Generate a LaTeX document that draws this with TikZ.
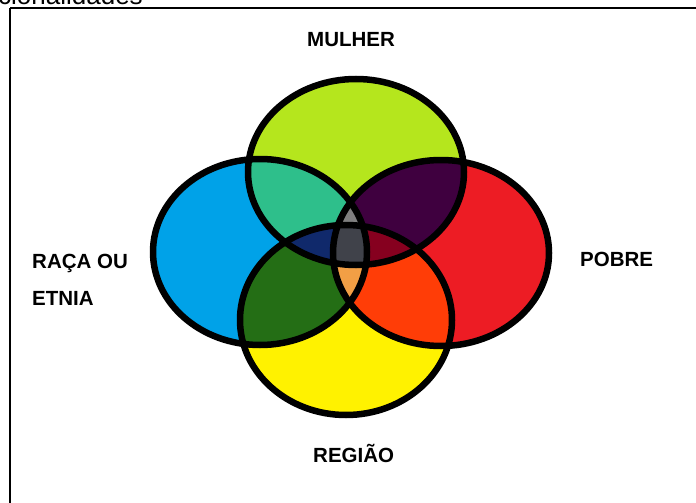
\documentclass[tikz,border=0pt]{standalone}
\usepackage{fontspec}
\setmainfont{Liberation Sans}
\definecolor{cMulher}{RGB}{181,230,29}
\definecolor{cRaca}{RGB}{0,162,232}
\definecolor{cPobre}{RGB}{237,28,36}
\definecolor{cRegiao}{RGB}{255,242,0}
\definecolor{cMR}{RGB}{46,191,139}
\definecolor{cMP}{RGB}{63,0,63}
\definecolor{cRG}{RGB}{36,110,21}
\definecolor{cPG}{RGB}{255,61,7}
\definecolor{cMRP}{RGB}{127,127,127}
\definecolor{cMRG}{RGB}{16,41,107}
\definecolor{cMPG}{RGB}{134,0,31}
\definecolor{cRPG}{RGB}{242,159,69}
\definecolor{cTodos}{RGB}{64,66,74}

\def\ellMulher{(356,172) ellipse [x radius=108, y radius=93]}
\def\ellRaca{(260,252) ellipse [x radius=107, y radius=93]}
\def\ellPobre{(441,253) ellipse [x radius=108, y radius=93]}
\def\ellRegiao{(346,320) ellipse [x radius=106, y radius=95]}

\begin{document}
\begin{tikzpicture}[x=1pt, y=-1pt, lbl/.style={font=\bfseries\fontsize{20.5}{37}\selectfont, inner sep=0pt, anchor=base west, align=left}, ring/.style={draw=black, line width=6.5pt}]
	\useasboundingbox (0,0) rectangle (696,503);
	% page remains
	\node[font=\fontsize{26}{26}\selectfont, inner sep=0pt, anchor=base west] (titulo) at (-2,5) {cionalidades};
	\draw[line width=1.4pt] (10,8) -- (696,8);
	\draw[line width=2.4pt] (660,8) -- (696,8);
	\draw[line width=2pt] (10,8) -- (10,503);
	% single sets
	\fill[cMulher] \ellMulher;
	\fill[cRaca] \ellRaca;
	\fill[cPobre] \ellPobre;
	\fill[cRegiao] \ellRegiao;
	% pairs
	\begin{scope} \clip \ellMulher; \fill[cMR] \ellRaca; \fill[cMP] \ellPobre; \end{scope}
	\begin{scope} \clip \ellRegiao; \fill[cRG] \ellRaca; \fill[cPG] \ellPobre; \end{scope}
	% triples
	\begin{scope} \clip \ellMulher; \clip \ellRaca; \fill[cMRP] \ellPobre; \fill[cMRG] \ellRegiao; \end{scope}
	\begin{scope} \clip \ellMulher; \clip \ellPobre; \fill[cMPG] \ellRegiao; \end{scope}
	\begin{scope} \clip \ellRaca; \clip \ellPobre; \fill[cRPG] \ellRegiao; \end{scope}
	\begin{scope} \clip \ellMulher; \clip \ellRaca; \clip \ellPobre; \fill[cTodos] \ellRegiao; \end{scope}
	% outlines
	\draw[ring] \ellMulher;
	\draw[ring] \ellRaca;
	\draw[ring] \ellPobre;
	\draw[ring] \ellRegiao;
	% labels
	\node[lbl] (mulher) at (307,47) {MULHER};
	\node[lbl] (raca) at (32,305) {RAÇA OU\\ETNIA};
	\node[lbl] (pobre) at (580,266) {POBRE};
	\node[lbl] (regiao) at (313,462) {REGIÃO};
\end{tikzpicture}
\end{document}
